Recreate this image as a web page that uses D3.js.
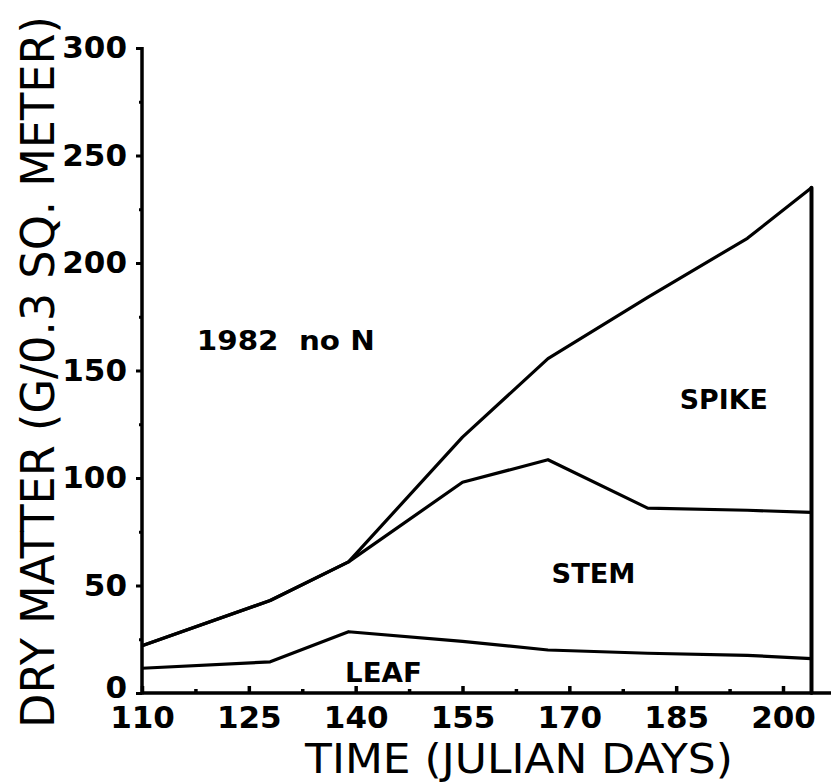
<!DOCTYPE html>
<html>
<head>
<meta charset="utf-8">
<script src="https://cdn.jsdelivr.net/npm/d3@7"></script>
<style>
  html, body { margin: 0; padding: 0; background: #fff; }
  svg { display: block; }
</style>
</head>
<body>
<svg id="chart" width="831" height="784"></svg>
<script>
// ---- data ----
const days  = [110, 128, 139, 155, 167, 181, 195, 204];
const leaf  = [11.5, 14.5, 28.5, 24, 20, 18.5, 17.5, 16];
const stem  = [10.5, 28.5, 32.5, 74, 88.5, 67.5, 67.5, 68];
const spike = [0, 0, 0, 21, 47, 98, 126.5, 151];
const yMajorTicks = [0, 50, 100, 150, 200, 250, 300];
const yMinorTicks = [25, 75, 125, 175, 225, 275];
const xMajorTicks = [110, 125, 140, 155, 170, 185, 200];
const xMinorTicks = [117.5, 132.5, 147.5, 162.5, 177.5, 192.5];

const rows = days.map((d, i) => ({ day: d, leaf: leaf[i], stem: stem[i], spike: spike[i] }));
const stacked = d3.stack().keys(["leaf", "stem", "spike"])(rows);

const svg = d3.select("#chart");
const x = d3.scaleLinear().domain([110, 200]).range([142, 783]);
const y = d3.scaleLinear().domain([0, 300]).range([693, 48]);

const numFont = "'DejaVu Sans', sans-serif";

// y axis (major)
const gy = svg.append("g").attr("transform", `translate(${x(110)},0)`)
  .call(d3.axisLeft(y).tickValues(yMajorTicks).tickSize(6).tickPadding(9).tickFormat(d3.format("d")));
gy.select(".domain").remove();
gy.selectAll(".tick line").attr("stroke", "#000").attr("stroke-width", 3);
gy.selectAll(".tick text").attr("font-family", numFont).attr("font-weight", "bold")
  .attr("font-size", 31).attr("fill", "#000")
  .attr("dy", d => d === 0 ? "0.15em" : "0.32em");
// y axis (minor)
const gym = svg.append("g").attr("transform", `translate(${x(110)},0)`)
  .call(d3.axisLeft(y).tickValues(yMinorTicks).tickSize(3).tickFormat(""));
gym.select(".domain").remove();
gym.selectAll(".tick line").attr("stroke", "#000").attr("stroke-width", 3);

// x axis (major)
const gx = svg.append("g").attr("transform", `translate(0,${y(0)})`)
  .call(d3.axisBottom(x).tickValues(xMajorTicks).tickSize(-7).tickPadding(13).tickFormat(d3.format("d")));
gx.select(".domain").remove();
gx.selectAll(".tick line").attr("stroke", "#000").attr("stroke-width", 3.5);
gx.selectAll(".tick text").attr("font-family", numFont).attr("font-weight", "bold")
  .attr("font-size", 31).attr("fill", "#000");
// x axis (minor)
const gxm = svg.append("g").attr("transform", `translate(0,${y(0)})`)
  .call(d3.axisBottom(x).tickValues(xMinorTicks).tickSize(-4).tickFormat(""));
gxm.select(".domain").remove();
gxm.selectAll(".tick line").attr("stroke", "#000").attr("stroke-width", 3.5);

// axis lines
svg.append("line").attr("x1", x(110)).attr("x2", x(110)).attr("y1", y(300) - 1).attr("y2", y(0) + 1.5)
  .attr("stroke", "#000").attr("stroke-width", 3.5);
svg.append("line").attr("x1", x(110)).attr("x2", 831).attr("y1", y(0)).attr("y2", y(0))
  .attr("stroke", "#000").attr("stroke-width", 3.5);

// series boundary lines
const line = d3.line().x(d => x(d.data.day)).y(d => y(d[1]));
svg.append("g").selectAll("path").data(stacked).join("path")
  .attr("d", line).attr("fill", "none").attr("stroke", "#000")
  .attr("stroke-width", 3.2).attr("stroke-linejoin", "round");

// closing vertical line at final harvest
const last = stacked[2][stacked[2].length - 1];
svg.append("line").attr("x1", x(last.data.day)).attr("x2", x(last.data.day))
  .attr("y1", y(last[1])).attr("y2", y(0))
  .attr("stroke", "#000").attr("stroke-width", 4).attr("stroke-linecap", "round");

// labels
const lab = (tx, ty, txt, len) => svg.append("text").attr("x", tx).attr("y", ty)
  .attr("font-family", numFont).attr("font-weight", "bold").attr("font-size", 27)
  .attr("textLength", len).attr("lengthAdjust", "spacingAndGlyphs")
  .style("white-space", "pre").attr("fill", "#000").text(txt);
lab(x(117.7), y(159.5), "1982  no N", 178);
lab(x(185.5), y(132), "SPIKE", 88);
lab(x(167.5), y(51), "STEM", 84);
lab(x(138.5), y(5), "LEAF", 77);

// axis titles (horizontally condensed to match the narrow plotter lettering)
const condensed = (tx, ty, rot, size, txt, target) => {
  const g = svg.append("g");
  const t = g.append("text").attr("text-anchor", "middle")
    .attr("font-family", "'DejaVu Sans', sans-serif").attr("font-size", size)
    .attr("fill", "#000").text(txt);
  const natural = t.node().getComputedTextLength();
  const sx = target / natural;
  g.attr("transform", `translate(${tx},${ty}) rotate(${rot}) scale(${sx},1)`);
};
condensed(519, 773, 0, 41, "TIME (JULIAN DAYS)", 428);
condensed(54, 372, -90, 47, "DRY MATTER (G/0.3 SQ. METER)", 712);
</script>
</body>
</html>
